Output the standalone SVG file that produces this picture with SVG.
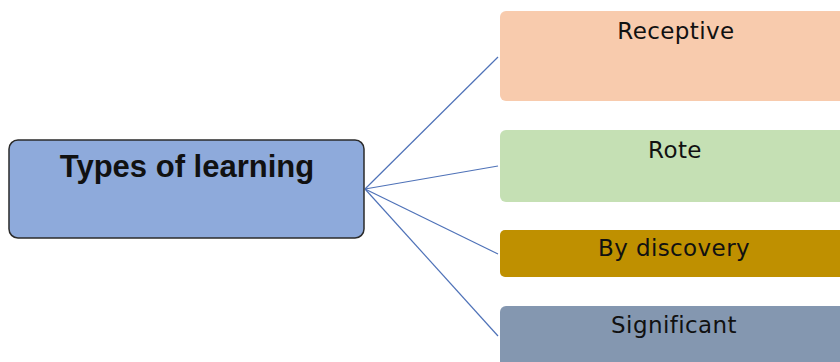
<svg xmlns="http://www.w3.org/2000/svg" width="840" height="362" viewBox="0 0 840 362">
<style>
.conn{stroke:#4F72B8;stroke-width:1.2;fill:none}
.lbl{font-family:"DejaVu Sans",sans-serif;font-size:23px;fill:#111;text-anchor:middle;letter-spacing:0.4px}
.title{font-family:"Liberation Sans",Arial,sans-serif;font-size:31px;font-weight:bold;fill:#111;text-anchor:middle}
</style>
<rect width="840" height="362" fill="#ffffff"/>
<g id="connectors">
<line class="conn" x1="365" y1="189" x2="498" y2="57"/>
<line class="conn" x1="365" y1="189" x2="498" y2="166"/>
<line class="conn" x1="365" y1="189" x2="498" y2="254"/>
<line class="conn" x1="365" y1="189" x2="498" y2="336"/>
</g>
<g id="types-of-learning">
<rect x="9" y="140" width="355" height="98" rx="9" fill="#8EAADB" stroke="#2b2b2b" stroke-width="1.5"/>
<text class="title" x="187" y="177">Types of learning</text>
</g>
<g id="receptive">
<rect x="500" y="11" width="360" height="90" rx="6" fill="#F8CBAD"/>
<text class="lbl" x="676" y="39">Receptive</text>
</g>
<g id="rote">
<rect x="500" y="130" width="360" height="72" rx="6" fill="#C5E0B4"/>
<text class="lbl" x="675" y="158">Rote</text>
</g>
<g id="by-discovery">
<rect x="500" y="230" width="360" height="47" rx="5" fill="#BF9000"/>
<text class="lbl" x="674" y="256">By discovery</text>
</g>
<g id="significant">
<rect x="500" y="306" width="360" height="80" rx="6" fill="#8497B0"/>
<text class="lbl" x="674" y="333">Significant</text>
</g>
</svg>
